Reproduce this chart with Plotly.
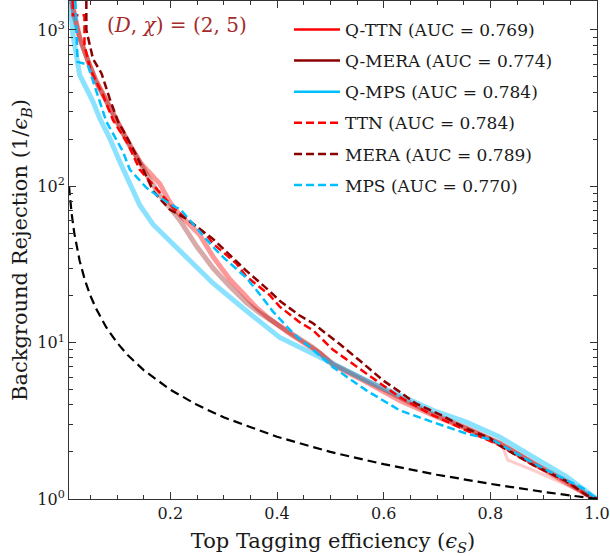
import plotly.graph_objects as go

# ---------------- data ----------------
qttn_eps = [0.015, 0.02, 0.03, 0.045, 0.06, 0.08, 0.1, 0.12, 0.145, 0.165, 0.18, 0.2, 0.2175, 0.255,
            0.28, 0.311, 0.3425, 0.361, 0.386, 0.424, 0.48, 0.505, 0.5675, 0.63, 0.6925, 0.755, 0.8175,
            0.88, 0.9425, 0.99, 1.0]
qttn_rej = [1530, 1250, 900, 640, 480, 355, 262, 195, 140, 118, 104, 78, 66, 49,
            35.5, 25.5, 19.4, 16.8, 14.2, 11.4, 8.6, 7.2, 5.59, 4.27, 3.43, 2.82, 2.26,
            1.69, 1.29, 1.02, 1.0]

qttn2_eps = [0.8, 0.823, 0.833, 0.88, 0.9425, 1.0]
qttn2_rej = [2.4, 2.15, 1.77, 1.53, 1.23, 1.0]

qmera_eps = [0.015, 0.02, 0.03, 0.045, 0.06, 0.08, 0.1, 0.12, 0.14, 0.16, 0.18, 0.2, 0.2175, 0.249,
             0.28, 0.311, 0.3425, 0.3675, 0.405, 0.4675, 0.505, 0.5675, 0.63, 0.6925, 0.755, 0.8175,
             0.88, 0.9425, 0.99, 1.0]
qmera_rej = [1530, 1200, 880, 630, 470, 350, 255, 190, 148, 112, 88, 72, 61, 41.5,
             30, 23, 18, 15.5, 12.8, 9.3, 7.3, 5.7, 4.4, 3.5, 2.85, 2.28,
             1.7, 1.3, 1.03, 1.0]

qmps_eps = [0.012, 0.0175, 0.03, 0.055, 0.0675, 0.086, 0.105, 0.124, 0.1425, 0.1675, 0.199, 0.215,
            0.23, 0.255, 0.28, 0.3425, 0.405, 0.4675, 0.505, 0.5675, 0.63, 0.6925, 0.755, 0.8175,
            0.88, 0.9425, 1.0]
qmps_rej = [1530, 925, 515, 348, 272, 204, 144, 102, 76, 57, 45, 39.5,
            35.5, 29.5, 24, 16, 10.8, 8.5, 7.3, 5.73, 4.6, 3.69, 3.1, 2.49,
            1.86, 1.39, 1.0]

ttn_eps = [0.017, 0.017, 0.039, 0.039, 0.05, 0.074, 0.0925, 0.12, 0.1425, 0.174, 0.205, 0.2675,
           0.28, 0.324, 0.3425, 0.386, 0.405, 0.4425, 0.4675, 0.505, 0.5675, 0.63, 0.6925, 0.755,
           0.8175, 0.88, 0.9425, 0.98, 1.0]
ttn_rej = [1530, 1240, 1240, 800, 560, 380, 265, 188, 128, 97, 73, 49,
           43, 32, 26.5, 20.2, 17, 13.5, 12.0, 9.0, 6.32, 4.48, 3.43, 2.75,
           2.2, 1.65, 1.3, 1.06, 1.0]

mera_eps = [0.0425, 0.0425, 0.055, 0.071, 0.086, 0.102, 0.121, 0.139, 0.161, 0.1675, 0.199, 0.23,
            0.28, 0.3425, 0.386, 0.405, 0.4425, 0.4675, 0.48, 0.5175, 0.555, 0.599, 0.63, 0.661,
            0.711, 0.755, 0.799, 0.8175, 0.88, 0.9425, 0.98, 1.0]
mera_rej = [1530, 1000, 653, 527, 366, 259, 199, 151, 105, 93, 71, 62,
            46, 28.8, 21.4, 18.5, 14.9, 13.3, 12.3, 9.8, 7.68, 5.73, 4.85, 4.07,
            3.4, 2.82, 2.45, 2.2, 1.65, 1.3, 1.06, 1.0]

mps_eps = [0.022, 0.024, 0.026, 0.045, 0.055, 0.064, 0.08, 0.111, 0.124, 0.155, 0.18, 0.211, 0.2175,
           0.261, 0.28, 0.3, 0.3425, 0.3675, 0.3925, 0.42, 0.4425, 0.46, 0.505, 0.5675, 0.63, 0.6925,
           0.755, 0.805, 0.88, 0.9425, 0.974, 1.0]
mps_rej = [1530, 900, 625, 600, 480, 380, 259, 167, 128, 98, 85, 73, 72,
           49, 41, 35, 26, 20.4, 15.8, 12.5, 10.5, 9.5, 6.96, 4.95, 3.69, 3.1,
           2.62, 2.38, 1.7, 1.32, 1.17, 1.0]

rand_eps = [0.01, 0.012, 0.015, 0.02, 0.025, 0.03, 0.04, 0.05, 0.06, 0.08, 0.1, 0.12, 0.15,
            0.2, 0.25, 0.3, 0.4, 0.5, 0.6, 0.7, 0.8, 0.9, 1.0]
rand_rej = [100, 83.3, 66.7, 50, 40, 33.3, 25, 20, 16.7, 12.5, 10, 8.33, 6.67,
            5, 4, 3.33, 2.5, 2, 1.67, 1.43, 1.25, 1.11, 1.0]

labels = ["Q-TTN (AUC = 0.769)", "Q-MERA (AUC = 0.774)", "Q-MPS (AUC = 0.784)",
          "TTN (AUC = 0.784)", "MERA (AUC = 0.789)", "MPS (AUC = 0.770)"]

x_ticks = [0.2, 0.4, 0.6, 0.8, 1.0]
x_ticktext = ["0.2", "0.4", "0.6", "0.8", "1.0"]
y_ticks = [1, 10, 100, 1000]
y_ticktext = ["10<sup>0</sup>", "10<sup>1</sup>", "10<sup>2</sup>", "10<sup>3</sup>"]

RED = "#ff0000"
DRED = "#8b0000"
BLUE = "#00bfff"
FONT = "DejaVu Serif"
TXT = "#1a1a1a"

fig = go.Figure()

# Quantum bands (semi-transparent)
fig.add_trace(go.Scatter(x=qttn_eps, y=qttn_rej, mode="lines", line=dict(color=RED, width=5),
                         opacity=0.4, showlegend=False, hoverinfo="skip"))
fig.add_trace(go.Scatter(x=qttn2_eps, y=qttn2_rej, mode="lines", line=dict(color=RED, width=3),
                         opacity=0.2, showlegend=False, hoverinfo="skip"))
fig.add_trace(go.Scatter(x=qmera_eps, y=qmera_rej, mode="lines", line=dict(color=DRED, width=5),
                         opacity=0.33, showlegend=False, hoverinfo="skip"))
fig.add_trace(go.Scatter(x=qmps_eps, y=qmps_rej, mode="lines", line=dict(color=BLUE, width=5),
                         opacity=0.45, showlegend=False, hoverinfo="skip"))

# legend-only entries for quantum models
for lab, col, grp in zip(labels[:3], [RED, DRED, BLUE], ["a", "b", "c"]):
    fig.add_trace(go.Scatter(x=[None], y=[None], mode="lines", name=lab, legendgroup=grp,
                             line=dict(color=col, width=2.5)))

DASH = "8px,4px"
fig.add_trace(go.Scatter(x=ttn_eps, y=ttn_rej, mode="lines", name=labels[3], legendgroup="d",
                         line=dict(color=RED, width=2.5, dash=DASH)))
fig.add_trace(go.Scatter(x=mera_eps, y=mera_rej, mode="lines", name=labels[4], legendgroup="e",
                         line=dict(color=DRED, width=2.5, dash=DASH)))
fig.add_trace(go.Scatter(x=mps_eps, y=mps_rej, mode="lines", name=labels[5], legendgroup="f",
                         line=dict(color=BLUE, width=2.5, dash=DASH)))
fig.add_trace(go.Scatter(x=rand_eps, y=rand_rej, mode="lines", showlegend=False,
                         line=dict(color="black", width=2.2, dash="9px,5px")))

axis_common = dict(showline=True, linecolor="#333333", linewidth=1, mirror="ticks",
                   ticks="inside", ticklen=7, tickcolor="#333333", showgrid=False, zeroline=False,
                   tickfont=dict(family=FONT, size=16, color=TXT))

fig.update_xaxes(range=[0.01, 1.0], tickvals=x_ticks, ticktext=x_ticktext,
                 minor=dict(ticks="inside", ticklen=4, dtick=0.05, tickcolor="#333333"),
                 title=dict(text="Top Tagging efficiency (<i>ϵ<sub>S</sub></i>)",
                            font=dict(family=FONT, size=21, color=TXT), standoff=11),
                 **axis_common)
fig.update_yaxes(type="log", range=[0, 3.185], tickvals=y_ticks, ticktext=y_ticktext,
                 minor=dict(ticks="inside", ticklen=4, dtick="D1", tickcolor="#333333"),
                 title=dict(text="Background Rejection (1/<i>ϵ<sub>B</sub></i>)",
                            font=dict(family=FONT, size=21, color=TXT), standoff=3),
                 **axis_common)

fig.add_annotation(x=0.204, y=0.979, xref="paper", yref="paper", showarrow=False,
                   text="(<i>D</i>, <i>χ</i>) = (2, 5)", xanchor="center", yanchor="top",
                   font=dict(family=FONT, size=20, color="#a52a2a"))

fig.update_layout(
    width=610, height=556,
    margin=dict(l=69, r=13, t=1, b=57),
    plot_bgcolor="white", paper_bgcolor="white",
    legend=dict(x=0.4167, y=0.978, xanchor="left", yanchor="top", bgcolor="rgba(0,0,0,0)",
                font=dict(family=FONT, size=17, color=TXT), tracegroupgap=6,
                itemwidth=46),
)

fig.write_html("out.html", config={"displayModeBar": False},
               post_script="document.body.style.margin='0px';")
